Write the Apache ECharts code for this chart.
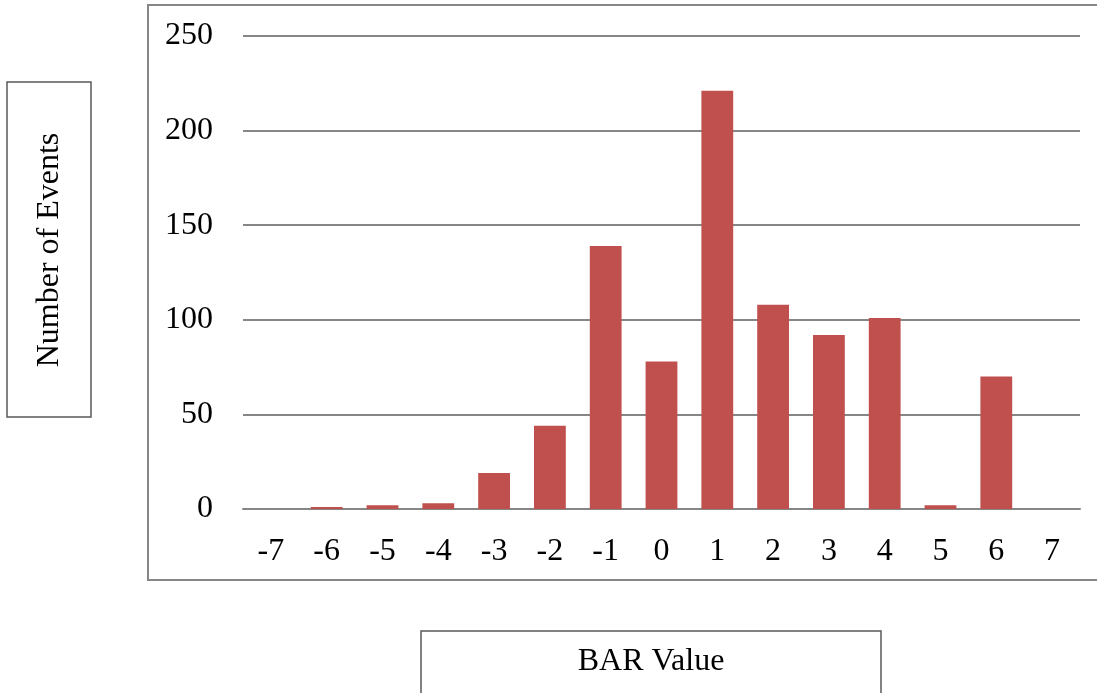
<!DOCTYPE html>
<html>
<head>
<meta charset="utf-8">
<script src="https://cdn.jsdelivr.net/npm/echarts@6/dist/echarts.min.js"></script>
<style>
html,body{margin:0;padding:0;background:#fff;}
#chart{width:1097px;height:693px;}
</style>
</head>
<body>
<div id="chart"></div>
<script>
const categories = ['-7','-6','-5','-4','-3','-2','-1','0','1','2','3','4','5','6','7'];
const eventCounts = [0, 1, 2, 3, 19, 44, 139, 78, 221, 108, 92, 101, 2, 70, 0];
const yTicks = { min: 0, max: 250, interval: 50 };
const xTitle = 'BAR Value';
const yTitle = 'Number of Events';

const FONT = '"Liberation Serif", "Times New Roman", serif';
const chart = echarts.init(document.getElementById('chart'));
chart.setOption({
  backgroundColor: '#ffffff',
  animation: false,
  grid: { left: 243, right: 17, top: 36, bottom: 184, containLabel: false },
  xAxis: {
    type: 'category',
    data: categories,
    axisLine: { show: true, lineStyle: { color: '#868686', width: 2 } },
    axisTick: { show: false },
    axisLabel: { color: '#000', fontFamily: FONT, fontSize: 32, margin: 27 },
    splitLine: { show: false }
  },
  yAxis: {
    type: 'value',
    min: yTicks.min, max: yTicks.max, interval: yTicks.interval,
    axisLine: { show: false },
    axisTick: { show: false },
    axisLabel: { color: '#000', fontFamily: FONT, fontSize: 32, margin: 30 },
    splitLine: { show: true, lineStyle: { color: '#868686', width: 2 } }
  },
  series: [{
    type: 'bar',
    data: eventCounts,
    barWidth: '57%',
    itemStyle: { color: '#C0504D' }
  }],
  graphic: [
    { type: 'rect', z: -1, shape: { x: 148, y: 5, width: 1000, height: 575 },
      style: { fill: 'none', stroke: '#868686', lineWidth: 2 } },
    { type: 'rect', shape: { x: 7, y: 82, width: 84, height: 335 },
      style: { fill: '#fff', stroke: '#595959', lineWidth: 1.5 } },
    { type: 'text', x: 50, y: 250, rotation: Math.PI / 2,
      style: { text: yTitle, font: '32px ' + FONT, fill: '#000', align: 'center', verticalAlign: 'middle' } },
    { type: 'rect', shape: { x: 421, y: 631, width: 460, height: 80 },
      style: { fill: '#fff', stroke: '#595959', lineWidth: 1.5 } },
    { type: 'text', x: 651, y: 662,
      style: { text: xTitle, font: '32px ' + FONT, fill: '#000', align: 'center', verticalAlign: 'middle' } }
  ]
});
</script>
</body>
</html>
